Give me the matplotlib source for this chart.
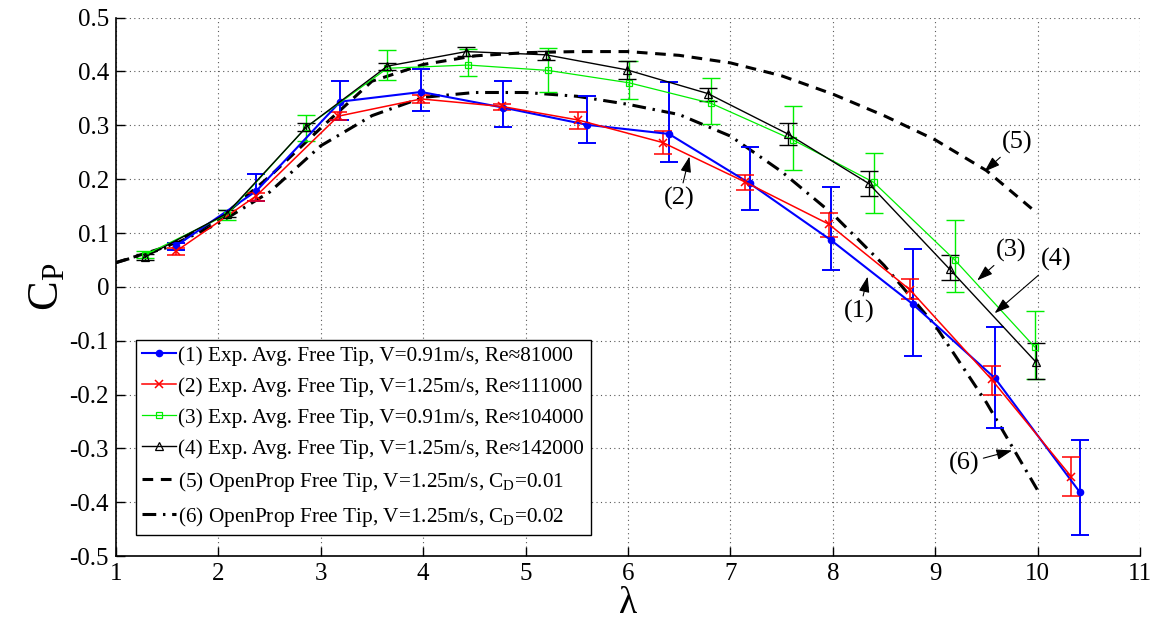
import numpy as np
import matplotlib
matplotlib.use("Agg")
import matplotlib.pyplot as plt

plt.rcParams['font.family'] = ['Liberation Serif', 'DejaVu Serif']
plt.rcParams['mathtext.fontset'] = 'custom'
plt.rcParams['mathtext.rm'] = 'Liberation Serif'
plt.rcParams['mathtext.it'] = 'Liberation Serif:italic'
plt.rcParams['axes.unicode_minus'] = False

# (1) exp. avg, V=0.91 m/s
x1 = [1.585, 2.37, 3.19, 3.98, 4.78, 5.60, 6.40, 7.19, 7.98, 8.78, 9.585, 10.41]
y1 = [0.076, 0.178, 0.344, 0.362, 0.333, 0.301, 0.284, 0.192, 0.087, -0.032, -0.170, -0.381]
lo1 = [0.069, 0.160, 0.309, 0.326, 0.296, 0.268, 0.232, 0.143, 0.032, -0.129, -0.263, -0.461]
hi1 = [0.082, 0.209, 0.383, 0.404, 0.382, 0.354, 0.380, 0.260, 0.186, 0.070, -0.074, -0.284]

# (2) exp. avg, V=1.25 m/s
x2 = [1.585, 2.37, 3.17, 3.98, 4.77, 5.51, 6.34, 7.14, 7.96, 8.75, 9.55, 10.33]
y2 = [0.066, 0.169, 0.317, 0.349, 0.335, 0.310, 0.268, 0.195, 0.1165, -0.005, -0.172, -0.353]
lo2 = [0.060, 0.160, 0.310, 0.342, 0.328, 0.293, 0.246, 0.180, 0.092, -0.023, -0.200, -0.389]
hi2 = [0.072, 0.175, 0.325, 0.356, 0.339, 0.325, 0.290, 0.208, 0.138, 0.014, -0.147, -0.316]

# (3) exp. avg, V=0.91 m/s
x3 = [1.28, 2.08, 2.86, 3.65, 4.44, 5.22, 6.01, 6.81, 7.61, 8.40, 9.19, 9.97]
y3 = [0.059, 0.134, 0.297, 0.406, 0.412, 0.402, 0.379, 0.341, 0.273, 0.194, 0.050, -0.1115]
lo3 = [0.053, 0.124, 0.271, 0.384, 0.392, 0.361, 0.349, 0.302, 0.217, 0.138, -0.009, -0.172]
hi3 = [0.066, 0.143, 0.320, 0.440, 0.441, 0.443, 0.420, 0.387, 0.336, 0.248, 0.124, -0.045]

# (4) exp. avg, V=1.25 m/s
x4 = [1.28, 2.08, 2.86, 3.65, 4.42, 5.20, 5.99, 6.78, 7.56, 8.35, 9.14, 9.98]
y4 = [0.055, 0.136, 0.297, 0.410, 0.437, 0.431, 0.403, 0.359, 0.284, 0.192, 0.033, -0.139]
lo4 = [0.050, 0.130, 0.290, 0.403, 0.429, 0.421, 0.386, 0.345, 0.263, 0.169, 0.012, -0.172]
hi4 = [0.061, 0.142, 0.304, 0.416, 0.445, 0.438, 0.420, 0.370, 0.305, 0.215, 0.059, -0.105]

# OpenProp predictions
lam = [1.0, 1.5, 2.0, 2.5, 3.0, 3.5, 4.0, 4.5, 5.0, 5.5, 6.0, 6.5, 7.0, 7.5, 8.0, 8.5, 9.0, 9.5, 10.0]
cp5 = [0.045, 0.075, 0.125, 0.205, 0.295, 0.382, 0.413, 0.429, 0.435, 0.437, 0.437, 0.430,
       0.416, 0.392, 0.358, 0.318, 0.273, 0.216, 0.136]
cp6 = [0.045, 0.073, 0.118, 0.176, 0.262, 0.318, 0.352, 0.361, 0.361, 0.354, 0.339, 0.320,
       0.280, 0.214, 0.135, 0.040, -0.072, -0.215, -0.378]

labels = [
    '(1) Exp. Avg. Free Tip, V=0.91m/s, Re\u224881000',
    '(2) Exp. Avg. Free Tip, V=1.25m/s, Re\u2248111000',
    '(3) Exp. Avg. Free Tip, V=0.91m/s, Re\u2248104000',
    '(4) Exp. Avg. Free Tip, V=1.25m/s, Re\u2248142000',
    r'(5) OpenProp Free Tip, V=1.25m/s, C$_\mathrm{D}$=0.01',
    r'(6) OpenProp Free Tip, V=1.25m/s, C$_\mathrm{D}$=0.02',
]

GREEN = '#00ee00'

fig = plt.figure(figsize=(11.6, 6.22), dpi=100)
ax = fig.add_axes([0.1, 0.1061, 0.8828, 0.8655])

def bars(x, y, lo, hi, color, lw):
    y = np.array(y)
    err = [y - np.array(lo), np.array(hi) - y]
    ax.errorbar(x, y, yerr=err, fmt='none', ecolor=color, elinewidth=lw,
                capsize=6.5, capthick=lw, zorder=3)

bars(x1, y1, lo1, hi1, 'blue', 1.4)
bars(x2, y2, lo2, hi2, 'red', 1.1)
bars(x3, y3, lo3, hi3, GREEN, 1.0)
bars(x4, y4, lo4, hi4, 'black', 1.0)

ax.plot(x1, y1, color='blue', lw=1.5, marker='o', ms=4.5, label=labels[0], zorder=4)
ax.plot(x2, y2, color='red', lw=1.1, marker='x', ms=6, mew=1.1, label=labels[1], zorder=4)
ax.plot(x3, y3, color=GREEN, lw=0.9, marker='s', ms=5, mfc='none', mew=0.9,
        label=labels[2], zorder=4)
ax.plot(x4, y4, color='black', lw=1.0, marker='^', ms=5.5, mfc='none', mew=0.9,
        label=labels[3], zorder=4)
ax.plot(lam, cp5, color='black', lw=2.2, ls=(0, (3.5, 2.5)), label=labels[4], zorder=2)
ax.plot(lam, cp6, color='black', lw=2.2, ls=(0, (4.5, 2.2, 0.8, 2.2)), label=labels[5], zorder=2)

ax.set_xlim(1, 11)
ax.set_ylim(-0.5, 0.5)
ax.set_xticks(range(1, 12))
ax.set_yticks(np.round(np.arange(-0.5, 0.51, 0.1), 1))
ax.set_yticklabels(['-0.5', '-0.4', '-0.3', '-0.2', '-0.1', '0', '0.1', '0.2', '0.3', '0.4', '0.5'])
ax.tick_params(direction='in', length=6.5, width=1, labelsize=18, pad=5)
ax.grid(True, color='0.35', lw=0.8, ls=(0, (1, 3)))
ax.spines['top'].set_visible(False)
ax.spines['right'].set_visible(False)
for s in ('left', 'bottom'):
    ax.spines[s].set_linewidth(1.2)

ax.set_xlabel('\u03bb', fontsize=27, labelpad=1)
ax.set_ylabel(r'C$_\mathrm{P}$', fontsize=32, labelpad=2)

leg = ax.legend(loc='lower left', bbox_to_anchor=(0.0195, 0.039), borderaxespad=0,
                fontsize=15.3, handlelength=1.6, handletextpad=0.1, labelspacing=0.52,
                numpoints=1, fancybox=False, framealpha=1, borderpad=0.3)
leg.get_frame().set_edgecolor('black')
leg.get_frame().set_linewidth(1.0)

arrow = dict(arrowstyle='-|>,head_length=0.5,head_width=0.17', color='black', lw=0.8,
             shrinkA=1, shrinkB=0)
notes = [
    ('(1)', (8.34, 0.019), (8.26, -0.046)),
    ('(2)', (6.60, 0.242), (6.50, 0.164)),
    ('(3)', (9.41, 0.012), (9.74, 0.068)),
    ('(4)', (9.58, -0.049), (10.18, 0.050)),
    ('(5)', (9.48, 0.214), (9.80, 0.269)),
    ('(6)', (9.75, -0.304), (9.28, -0.328)),
]
for txt, tip, pos in notes:
    ax.annotate(txt, xy=tip, xytext=pos, fontsize=19, ha='center', va='center',
                arrowprops=arrow, zorder=6)

fig.savefig('out.png', dpi=100)
